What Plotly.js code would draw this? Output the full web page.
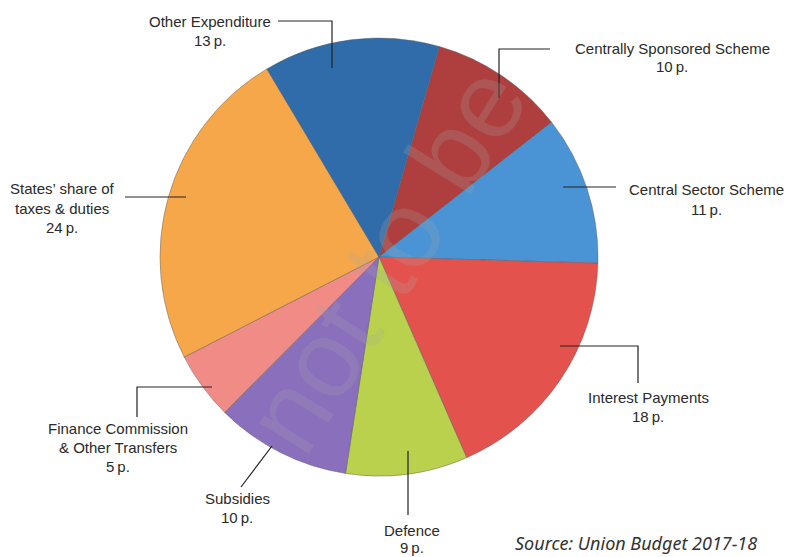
<!DOCTYPE html>
<html>
<head>
<meta charset="utf-8">
<script src="https://cdn.plot.ly/plotly-3.0.1.min.js"></script>
<style>html,body{margin:0;padding:0;background:#fff;}#chart{width:786px;height:557px;}</style>
</head>
<body>
<div id="chart"></div>
<script>
// ---- data ----
var categories = ["Centrally Sponsored Scheme", "Central Sector Scheme", "Interest Payments", "Defence", "Subsidies", "Finance Commission & Other Transfers", "States' share of taxes & duties", "Other Expenditure"];
var values = [10, 11, 18, 9, 10, 5, 24, 13];
var labelLines = [
  ["Centrally Sponsored Scheme"],
  ["Central Sector Scheme"],
  ["Interest Payments"],
  ["Defence"],
  ["Subsidies"],
  ["Finance Commission", "& Other Transfers"],
  ["States\u2019 share of", "taxes & duties"],
  ["Other Expenditure"]
];
var sourceText = "Source: Union Budget 2017-18";

// ---- styling / layout ----
var W = 786, H = 557;
var colors = ["#ae3f3e", "#4a94d5", "#e4524e", "#b9d14c", "#8a6fbd", "#f08b85", "#f5a749", "#306baa"];
// label anchor (px) and leader paths (px)
var labelPos = [
  [672, 48], [706, 190], [648, 397], [412, 530], [237, 498], [118, 428], [62, 189], [210, 21]
];
var lineHeights = [19, 19, 19, 17, 19, 19, 19, 19];
var leaders = [
  [[550, 49], [499, 49], [499, 98]],
  [[616, 187], [563, 187]],
  [[560, 346], [638, 346], [638, 383]],
  [[408, 451], [408, 515]],
  [[272, 446], [241, 487]],
  [[212, 387], [137, 387], [137, 417]],
  [[125, 197], [186, 197]],
  [[278, 21], [332, 21], [332, 68]]
];
function px(x) { return x / W; }
function py(y) { return 1 - y / H; }

var annotations = [];
var shapes = [];
for (var i = 0; i < categories.length; i++) {
  var lines = labelLines[i].concat([values[i] + "\u2009p."]);
  var cx = labelPos[i][0], cy = labelPos[i][1];
  for (var j = 0; j < lines.length; j++) {
    annotations.push({
      x: px(cx), y: py(cy + j * lineHeights[i]), xref: "paper", yref: "paper",
      text: lines[j], showarrow: false, xanchor: "center", yanchor: "middle",
      font: {family: "Liberation Sans, Arial, sans-serif", size: 15, color: "#2a2a2a"}
    });
  }
  var pts = leaders[i];
  var d = "M" + px(pts[0][0]) + "," + py(pts[0][1]);
  for (var k = 1; k < pts.length; k++) d += " L" + px(pts[k][0]) + "," + py(pts[k][1]);
  shapes.push({type: "path", xref: "paper", yref: "paper", path: d, line: {color: "#222", width: 1.2}});
}

annotations.push({
  x: px(513), y: py(543), xref: "paper", yref: "paper", text: "<i>" + sourceText + "</i>",
  showarrow: false, xanchor: "left", yanchor: "middle",
  font: {family: "Noto Sans, DejaVu Sans, sans-serif", size: 18, color: "#333"}
});
// faint watermark
annotations.push({
  x: px(385), y: py(258), xref: "paper", yref: "paper", text: "not to be",
  showarrow: false, textangle: -58, xanchor: "center", yanchor: "middle",
  font: {family: "Liberation Sans, Arial, sans-serif", size: 110, color: "rgba(170,170,170,0.22)"}
});

var trace = {
  type: "pie",
  labels: categories,
  values: values,
  sort: false,
  direction: "clockwise",
  rotation: 16,
  textinfo: "none",
  hoverinfo: "label+value",
  marker: {colors: colors, line: {color: "rgba(90,90,90,0.45)", width: 1}},
  domain: {x: [px(160), px(598)], y: [py(476), py(38)]},
  showlegend: false
};

var layout = {
  width: W, height: H,
  margin: {l: 0, r: 0, t: 0, b: 0},
  paper_bgcolor: "#fff",
  plot_bgcolor: "#fff",
  showlegend: false,
  annotations: annotations,
  shapes: shapes
};

Plotly.newPlot("chart", [trace], layout, {staticPlot: true, displayModeBar: false});
</script>
</body>
</html>
